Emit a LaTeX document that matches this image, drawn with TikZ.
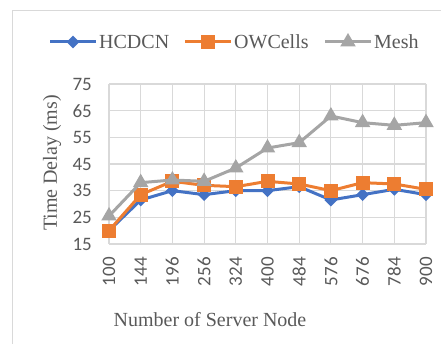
\documentclass[tikz,border=0pt]{standalone}
\usepackage{fontspec}
\setmainfont{Liberation Serif}
\newfontfamily\tickfont{Carlito}
\usetikzlibrary{shapes.geometric}
\definecolor{cblue}{HTML}{4472C4}
\definecolor{corange}{HTML}{ED7D31}
\definecolor{cgray}{HTML}{A5A5A5}
\definecolor{gridc}{HTML}{D9D9D9}
\definecolor{txt}{HTML}{595959}
\begin{document}
\begin{tikzpicture}[x=1pt,y=-1pt,
  gridline/.style={draw=gridc, line width=1.1pt},
  ticklab/.style={font=\tickfont\fontsize{19}{22}\selectfont, text=txt, inner sep=0pt},
  titlelab/.style={font=\fontsize{20}{24}\selectfont, text=txt, inner sep=0pt},
  series/.style={line width=3pt, line join=round},
  dmark/.style={diamond, fill=cblue, minimum width=13pt, minimum height=13pt, inner sep=0pt},
  smark/.style={rectangle, fill=corange, minimum size=14pt, inner sep=0pt},
  tmark/.style={regular polygon, regular polygon sides=3, fill=cgray, minimum size=18pt, inner sep=0pt}
]
\useasboundingbox (0,0) rectangle (441,344);
% outer frame
\draw[gridc, line width=1.1pt] (12.5,360) -- (12.5,10.5) -- (460,10.5);
% horizontal grid
\foreach \v in {15,25,...,75} {
  \draw[gridline] (109,{244-(\v-15)*2.6667}) -- (426,{244-(\v-15)*2.6667});
  \node[ticklab, anchor=east] (y\v) at (92,{244-(\v-15)*2.6667}) {\v};
}
% vertical grid and x labels
\foreach \c [count=\i from 0] in {100,144,196,256,324,400,484,576,676,784,900} {
  \draw[gridline] ({109+\i*31.7},84) -- ({109+\i*31.7},244);
  \node[ticklab, rotate=90, anchor=east] (x\i) at ({109+\i*31.7},257) {\c};
}
% axis titles
\node[titlelab, rotate=90] (ytitle) at (52,163) {Time Delay (ms)};
\node[titlelab] (xtitle) at (210,320) {Number of Server Node};
% data
\foreach \v [count=\i from 0] in {20,31.5,35,33.5,35,35,36.5,31.5,33.5,35.5,33.5}
  \coordinate (h\i) at ({109+\i*31.7},{244-(\v-15)*2.6667});
\foreach \v [count=\i from 0] in {20,33.5,38.5,37,36.5,38.5,37.5,35,38,37.5,35.5}
  \coordinate (o\i) at ({109+\i*31.7},{244-(\v-15)*2.6667});
\foreach \v [count=\i from 0] in {25.5,38,39,38.5,43.5,51,53,63,60.5,59.5,60.5}
  \coordinate (m\i) at ({109+\i*31.7},{244-(\v-15)*2.6667});
\draw[series, cblue] (h0) \foreach \i in {1,...,10} { -- (h\i) };
\foreach \i in {0,...,10} \node[dmark] (hm\i) at (h\i) {};
\draw[series, corange] (o0) \foreach \i in {1,...,10} { -- (o\i) };
\foreach \i in {0,...,10} \node[smark] (om\i) at (o\i) {};
\draw[series, cgray] (m0) \foreach \i in {1,...,10} { -- (m\i) };
\foreach \i in {0,...,10} \node[tmark] (mm\i) at (m\i) {};
% legend
\coordinate (l1a) at (50,42); \coordinate (l1b) at (96,42);
\draw[series, cblue] (l1a) -- (l1b);
\node[dmark] (lm1) at (73,42) {};
\node[titlelab, anchor=west] (lt1) at (99,42) {HCDCN};
\coordinate (l2a) at (185,42); \coordinate (l2b) at (231,42);
\draw[series, corange] (l2a) -- (l2b);
\node[smark] (lm2) at (208,42) {};
\node[titlelab, anchor=west] (lt2) at (234,42) {OWCells};
\coordinate (l3a) at (325,42); \coordinate (l3b) at (371,42);
\draw[series, cgray] (l3a) -- (l3b);
\node[tmark] (lm3) at (348,42) {};
\node[titlelab, anchor=west] (lt3) at (374,42) {Mesh};
\end{tikzpicture}
\end{document}
